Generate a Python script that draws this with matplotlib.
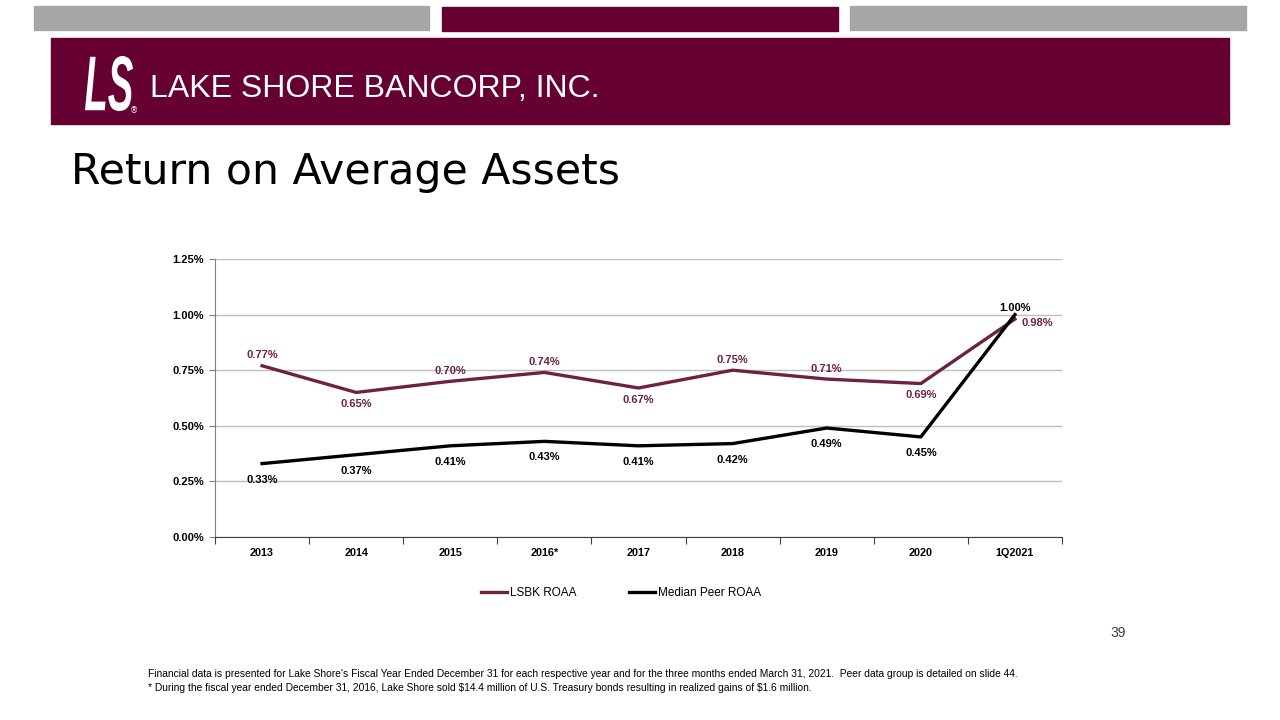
import matplotlib
matplotlib.use("Agg")
import matplotlib.pyplot as plt
from matplotlib.patches import Rectangle, PathPatch
from matplotlib.textpath import TextPath
from matplotlib.font_manager import FontProperties
from matplotlib.transforms import Affine2D, IdentityTransform
from matplotlib import font_manager

categories = ["2013", "2014", "2015", "2016*", "2017", "2018", "2019", "2020", "1Q2021"]
lsbk_roaa = [0.77, 0.65, 0.70, 0.74, 0.67, 0.75, 0.71, 0.69, 0.98]
peer_roaa = [0.33, 0.37, 0.41, 0.43, 0.41, 0.42, 0.49, 0.45, 1.00]
lsbk_pos = ["above", "below", "above", "above", "below", "above", "above", "below", "right"]
peer_pos = ["below_far"] * 8 + ["above_close"]
yticks = [0.0, 0.25, 0.5, 0.75, 1.0, 1.25]

names = {f.name for f in font_manager.fontManager.ttflist}
narrow = "Liberation Sans Narrow" if "Liberation Sans Narrow" in names else "Liberation Sans"

MAROON = "#660033"
LINE_M = "#6E2142"
W, H = 1280, 720
fig = plt.figure(figsize=(12.8, 7.2), dpi=100)
renderer = fig.canvas.get_renderer()

def px(x, y):
    return x / W, 1 - y / H

def rect(x0, y0, x1, y1, color):
    fig.patches.append(Rectangle((x0 / W, 1 - y1 / H), (x1 - x0) / W, (y1 - y0) / H,
                                 transform=fig.transFigure, color=color, zorder=0))

def fit_text(x, y, s, width_px, size, **kw):
    t = fig.text(*px(x, y), s, fontsize=size, **kw)
    w = t.get_window_extent(renderer).width
    t.set_fontsize(size * width_px / w)
    return t

def stretched_text(s, x0, y0, x1, y1, prop, color):
    tp = TextPath((0, 0), s, size=100, prop=prop)
    ext = tp.get_extents()
    sx = (x1 - x0) / ext.width
    sy = (y1 - y0) / ext.height
    tr = Affine2D().translate(-ext.x0, -ext.y0).scale(sx, sy).translate(x0, H - y1)
    patch = PathPatch(tr.transform_path(tp), facecolor=color, edgecolor="none",
                      transform=IdentityTransform(), zorder=2)
    fig.patches.append(patch)

rect(34, 6, 429, 30, "#A6A6A6")
rect(442, 7, 838, 31, MAROON)
rect(850, 6, 1246, 30, "#A6A6A6")
rect(51, 38, 1229, 124, MAROON)

stretched_text("LS", 85, 56, 133, 111,
               FontProperties(family="Liberation Sans", weight="bold", style="italic"), "white")
fig.text(*px(134, 111), "®", color="white", fontsize=6, va="center", ha="center")
fit_text(150, 89, "LAKE SHORE BANCORP, INC.", 450, 24, color="white",
         family=narrow, va="center", ha="left")
fit_text(71, 172, "Return on Average Assets", 549, 28, color="black",
         family="DejaVu Sans", va="center", ha="left")

ax = fig.add_axes([215 / W, 1 - 537 / H, (1062 - 215) / W, (537 - 259) / H])
x = list(range(len(categories)))
ax.plot(x, lsbk_roaa, color=LINE_M, lw=2.4, label="LSBK ROAA", zorder=3)
ax.plot(x, peer_roaa, color="black", lw=2.4, label="Median Peer ROAA", zorder=3)
ax.set_xlim(-0.5, len(categories) - 0.5)
ax.set_ylim(0, 1.25)
ax.set_yticks(yticks)
ax.set_yticklabels([f"{v:.2f}%" for v in yticks], fontsize=8, fontweight="bold", family="Liberation Sans")
ax.set_xticks([i - 0.5 for i in range(len(categories) + 1)])
ax.set_xticklabels([])
ax.set_xticks(x, minor=True)
ax.set_xticklabels(categories, minor=True, fontsize=7.8, fontweight="bold", family="Liberation Sans")
ax.tick_params(axis="x", which="minor", length=0, pad=8)
ax.tick_params(axis="x", which="major", length=5, direction="out", color="#404040")
ax.tick_params(axis="y", length=4, color="#808080", pad=4)
ax.grid(axis="y", color="#BFBFBF", lw=1)
ax.set_axisbelow(True)
for s in ["top", "right"]:
    ax.spines[s].set_visible(False)
ax.spines["left"].set_color("#808080")
ax.spines["bottom"].set_color("#404040")

def label(xi, v, pos, color):
    txt = f"{v:.2f}%"
    kw = dict(textcoords="offset points", fontsize=8, fontweight="bold", color=color,
              family="Liberation Sans")
    if pos == "above":
        ax.annotate(txt, (xi, v), xytext=(0, 4), ha="center", va="bottom", **kw)
    elif pos == "above_close":
        ax.annotate(txt, (xi, v), xytext=(0, 1), ha="center", va="bottom", **kw)
    elif pos == "below":
        ax.annotate(txt, (xi, v), xytext=(0, -5), ha="center", va="top", **kw)
    elif pos == "below_far":
        ax.annotate(txt, (xi, v), xytext=(0, -8), ha="center", va="top", **kw)
    else:
        ax.annotate(txt, (xi, v), xytext=(5, -3), ha="left", va="center", **kw)

for i, (v, p) in enumerate(zip(lsbk_roaa, lsbk_pos)):
    label(i, v, p, LINE_M)
for i, (v, p) in enumerate(zip(peer_roaa, peer_pos)):
    label(i, v, p, "black")

fig.legend(loc="center", bbox_to_anchor=px(621, 593), ncol=2, frameon=False,
           prop={"family": "Liberation Sans", "size": 8.5}, handlelength=2.2, handletextpad=0.2,
           columnspacing=4.5)

fig.text(*px(1118, 633), "39", fontsize=10, ha="center", va="center", color="#404040",
         family="Liberation Sans")
t1 = fit_text(148, 674, "Financial data is presented for Lake Shore's Fiscal Year Ended December 31 for each respective year and for the three months ended March 31, 2021.  Peer data group is detailed on slide 44.",
              867, 6.5, family=narrow, ha="left", va="center")
fig.text(*px(148, 688), "* During the fiscal year ended December 31, 2016, Lake Shore sold \\$14.4 million of U.S. Treasury bonds resulting in realized gains of \\$1.6 million.",
         fontsize=t1.get_fontsize(), family=narrow, ha="left", va="center")

fig.savefig("out.png", dpi=100)
